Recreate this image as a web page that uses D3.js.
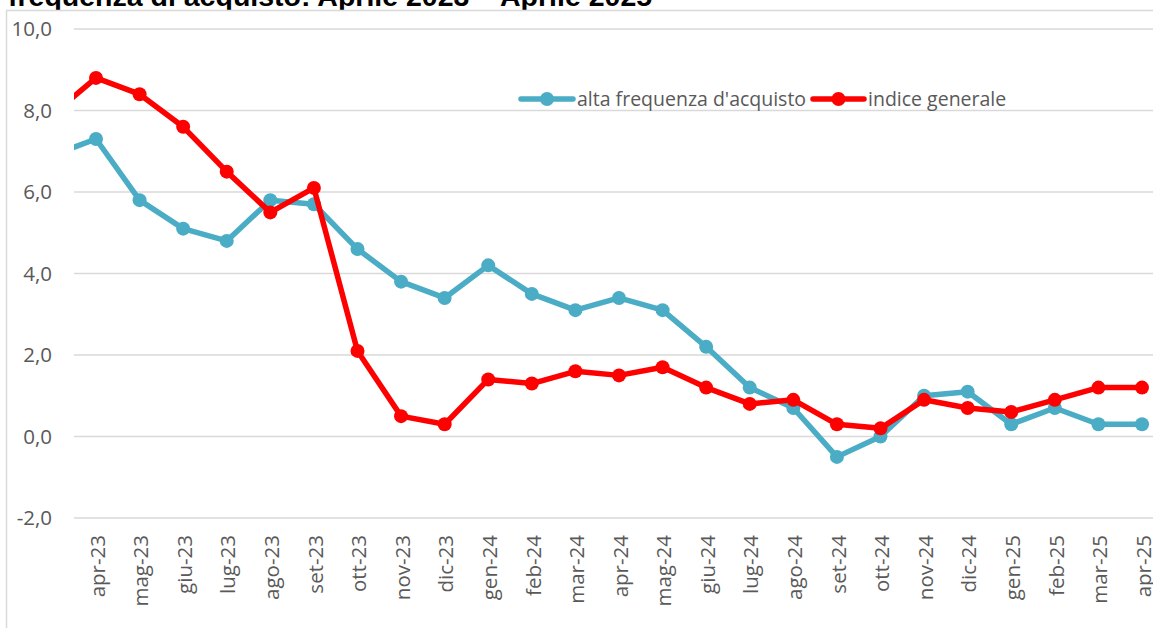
<!DOCTYPE html>
<html>
<head>
<meta charset="utf-8">
<script src="https://cdn.jsdelivr.net/npm/d3@7"></script>
<style>
  body { margin: 0; background: #fff; }
  svg { display: block; }
</style>
</head>
<body>
<svg id="chart" width="1153" height="628"></svg>
<script>
// months (mar-23 sits just outside the plot, only its segment shows)
const months = ["mar-23", "apr-23", "mag-23", "giu-23", "lug-23", "ago-23", "set-23", "ott-23", "nov-23", "dic-23",
  "gen-24", "feb-24", "mar-24", "apr-24", "mag-24", "giu-24", "lug-24", "ago-24", "set-24", "ott-24",
  "nov-24", "dic-24", "gen-25", "feb-25", "mar-25", "apr-25"];

const altaFrequenza = [6.9, 7.3, 5.8, 5.1, 4.8, 5.8, 5.7, 4.6, 3.8, 3.4,
  4.2, 3.5, 3.1, 3.4, 3.1, 2.2, 1.2, 0.7, -0.5, 0.0,
  1.0, 1.1, 0.3, 0.7, 0.3, 0.3];

const indiceGenerale = [7.9, 8.8, 8.4, 7.6, 6.5, 5.5, 6.1, 2.1, 0.5, 0.3,
  1.4, 1.3, 1.6, 1.5, 1.7, 1.2, 0.8, 0.9, 0.3, 0.2,
  0.9, 0.7, 0.6, 0.9, 1.2, 1.2];

const yTicks = [-2, 0, 2, 4, 6, 8, 10];

const title = "frequenza di acquisto: Aprile 2023 \u2013 Aprile 2025";

const series = [
  { name: "alta frequenza d'acquisto", values: altaFrequenza, color: "#4BACC6" },
  { name: "indice generale", values: indiceGenerale, color: "#FF0000" }
];

const width = 1153, height = 628;
const plot = { left: 74, right: 1153, top: 29, bottom: 518 };
const font = "'Open Sans', sans-serif";

const it = d3.formatLocale({ decimal: ",", thousands: ".", grouping: [3], currency: ["", " €"], minus: "-" });
const fmt = it.format(".1f");

const svg = d3.select("#chart");

const x = d3.scalePoint()
  .domain(months)
  .range([52.4, 1142]);

const y = d3.scaleLinear()
  .domain([-2, 10])
  .range([plot.bottom, plot.top]);

// title (cut at top like the source picture)
svg.append("text")
  .attr("x", 8)
  .attr("y", 6)
  .attr("font-family", "'Liberation Sans', Arial, sans-serif")
  .attr("font-weight", "bold")
  .attr("font-size", 28.5)
  .attr("fill", "#000")
  .text(title);

// chart frame
svg.append("rect")
  .attr("x", 6.5)
  .attr("y", 10.5)
  .attr("width", width)
  .attr("height", height)
  .attr("fill", "#fff")
  .attr("stroke", "#d9d9d9")
  .attr("stroke-width", 1.5);

// gridlines
svg.append("g")
  .selectAll("line")
  .data(yTicks)
  .join("line")
  .attr("x1", plot.left)
  .attr("x2", plot.right)
  .attr("y1", (d) => y(d))
  .attr("y2", (d) => y(d))
  .attr("stroke", "#d9d9d9")
  .attr("stroke-width", 1.5);

// y axis labels
const yAxis = (g) =>
  g
    .attr("transform", `translate(${plot.left},0)`)
    .call(d3.axisLeft(y).tickValues(yTicks).tickFormat(fmt).tickSize(0).tickPadding(22))
    .call((g) => g.select(".domain").remove())
    .call((g) => g.selectAll("text")
      .attr("font-family", font)
      .attr("font-size", 20.5)
      .attr("fill", "#595959"));
svg.append("g").call(yAxis);

// x axis labels (rotated)
const xAxis = (g) =>
  g
    .attr("transform", `translate(0,${plot.bottom})`)
    .call(d3.axisBottom(x).tickValues(months.slice(1)).tickSize(0))
    .call((g) => g.select(".domain").remove())
    .call((g) => g.selectAll("text")
      .attr("font-family", font)
      .attr("font-size", 20.5)
      .attr("fill", "#595959")
      .attr("text-anchor", "end")
      .attr("dy", "0.35em")
      .attr("transform", "translate(1,17) rotate(-90)")
      .attr("y", 0)
      .attr("x", 0));
svg.append("g").call(xAxis);

// clip for the plot area
svg.append("clipPath")
  .attr("id", "plotclip")
  .append("rect")
  .attr("x", plot.left)
  .attr("y", 0)
  .attr("width", plot.right - plot.left)
  .attr("height", height);

const line = d3.line()
  .x((d, i) => x(months[i]))
  .y((d) => y(d));

const lines = svg.append("g").attr("clip-path", "url(#plotclip)");

series.forEach((s) => {
  lines.append("path")
    .datum(s.values)
    .attr("fill", "none")
    .attr("stroke", s.color)
    .attr("stroke-width", 5.5)
    .attr("stroke-linejoin", "round")
    .attr("d", line);

  lines.append("g")
    .selectAll("circle")
    .data(s.values)
    .join("circle")
    .attr("cx", (d, i) => x(months[i]))
    .attr("cy", (d) => y(d))
    .attr("r", 7)
    .attr("fill", s.color);
});

// legend
const legendPos = [{ x: 521, w: 52 }, { x: 813, w: 51 }];
const legendY = 99;
const legend = svg.append("g");
series.forEach((s, i) => {
  const p = legendPos[i];
  legend.append("line")
    .attr("x1", p.x)
    .attr("x2", p.x + p.w)
    .attr("y1", legendY)
    .attr("y2", legendY)
    .attr("stroke", s.color)
    .attr("stroke-width", 5.5)
    .attr("stroke-linecap", "round");
  legend.append("circle")
    .attr("cx", p.x + p.w / 2)
    .attr("cy", legendY)
    .attr("r", 7)
    .attr("fill", s.color);
  legend.append("text")
    .attr("x", p.x + p.w + 4)
    .attr("y", legendY)
    .attr("dy", "0.35em")
    .attr("font-family", font)
    .attr("font-size", 19.5)
    .attr("fill", "#595959")
    .text(s.name);
});
</script>
</body>
</html>
